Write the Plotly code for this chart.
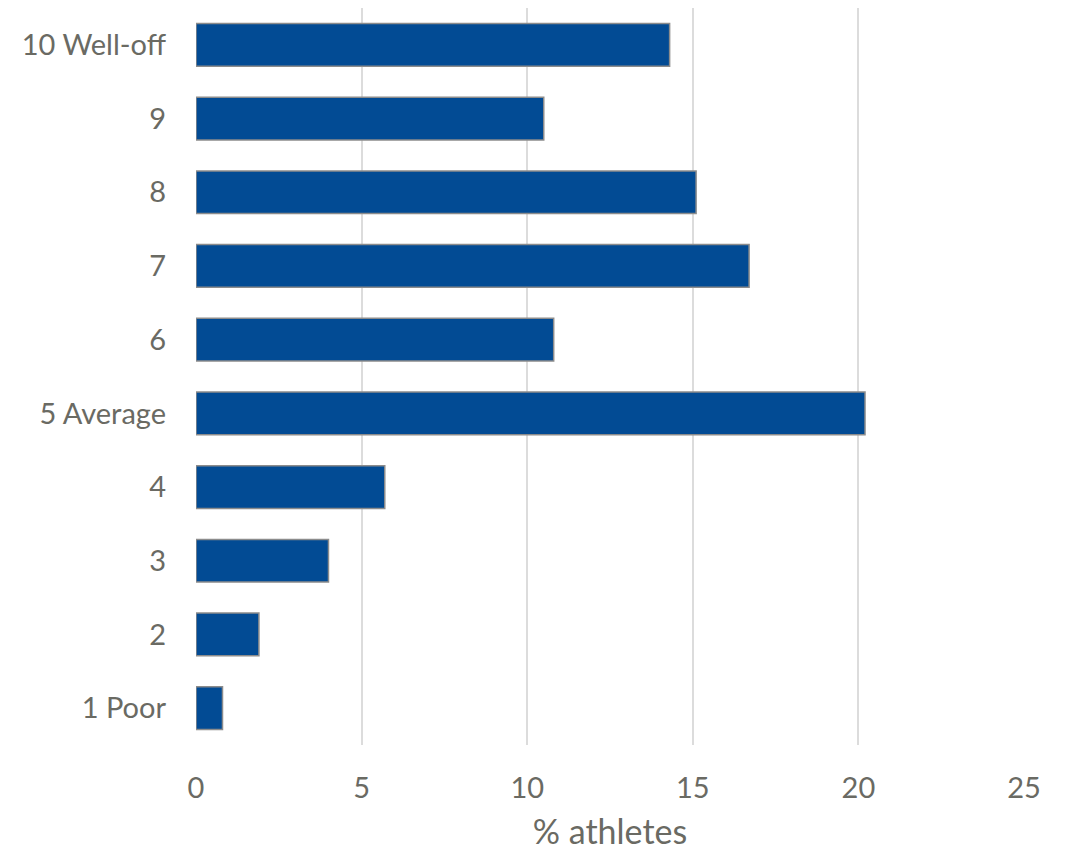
import plotly.graph_objects as go

categories = ["1 Poor", "2", "3", "4", "5 Average", "6", "7", "8", "9", "10 Well-off"]
values = [0.8, 1.9, 4.0, 5.7, 20.2, 10.8, 16.7, 15.1, 10.5, 14.3]
x_ticks = [0, 5, 10, 15, 20, 25]

fig = go.Figure(go.Bar(
    y=categories, x=values, orientation="h",
    marker=dict(color="#024b94", line=dict(color="#8c8c8c", width=1.5)),
))

font = "Lato, Carlito, Calibri, sans-serif"
txt = "#6a6a63"
fig.update_layout(
    width=1066, height=855,
    margin=dict(l=188, r=50, t=0, b=118),
    plot_bgcolor="white", paper_bgcolor="white",
    bargap=0.42,
    showlegend=False,
    font=dict(family=font, color=txt, size=29),
)
fig.update_xaxes(
    range=[0, 25], tickvals=x_ticks, showgrid=True, gridcolor="#dcdcdc", gridwidth=2,
    zeroline=False, showline=False, ticks="", ticklabelstandoff=23,
    tickfont=dict(size=29, color=txt),
    title=dict(text="% athletes", font=dict(size=34, color=txt), standoff=17),
    automargin=False,
)
fig.update_yaxes(
    categoryorder="array", categoryarray=categories,
    showgrid=False, zeroline=False, showline=False, ticks="", ticklabelstandoff=29,
    tickfont=dict(size=29, color=txt), automargin=False,
)
fig.write_html("out.html")
